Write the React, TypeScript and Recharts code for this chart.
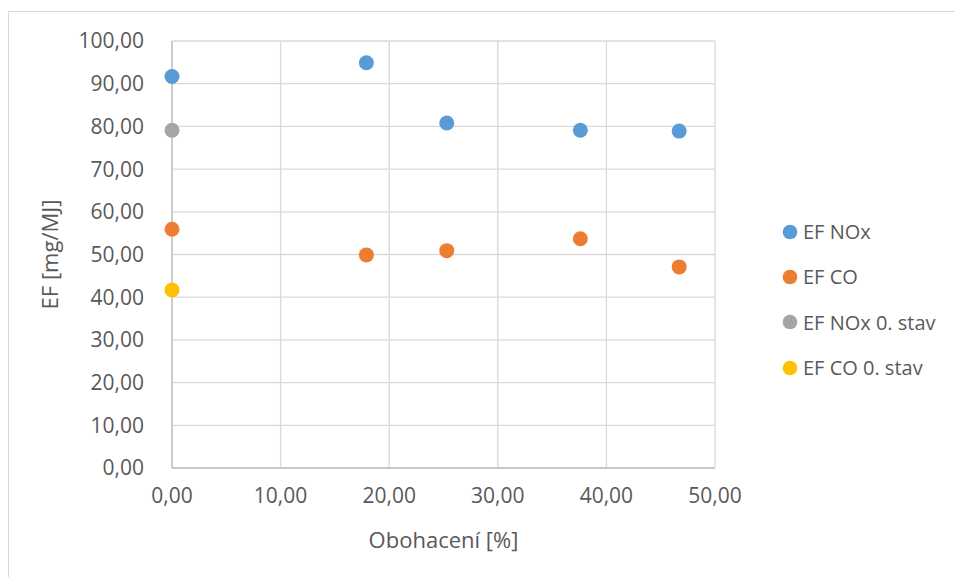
import React from "react";
import {
  ScatterChart,
  Scatter,
  XAxis,
  YAxis,
  CartesianGrid,
  Label,
} from "recharts";

// Enrichment [%] for the measured states
const enrichment = [17.9, 25.3, 37.6, 46.7];
const efNOx = [94.9, 80.8, 79.1, 78.9];
const efCO = [49.9, 50.9, 53.7, 47.1];

// Baseline ("0. stav") at zero enrichment
const baseEnrichment = [0, 0];
const baseNOx = [91.7, 79.1];
const baseCO = [55.9, 41.7];

const xTicks = [0, 10, 20, 30, 40, 50];
const yTicks = [0, 10, 20, 30, 40, 50, 60, 70, 80, 90, 100];

// Series order in the legend: NOx, CO, NOx 0. stav, CO 0. stav
const nOxPoints = [
  { x: baseEnrichment[0], y: baseNOx[0] },
  ...enrichment.map((x, i) => ({ x, y: efNOx[i] })),
];
const coPoints = [
  { x: baseEnrichment[0], y: baseCO[0] },
  ...enrichment.map((x, i) => ({ x, y: efCO[i] })),
];
const nOxBase = [{ x: baseEnrichment[1], y: baseNOx[1] }];
const coBase = [{ x: baseEnrichment[1], y: baseCO[1] }];

const series = [
  { name: "EF NOx", color: "#5B9BD5", data: nOxPoints },
  { name: "EF CO", color: "#ED7D31", data: coPoints },
  { name: "EF NOx 0. stav", color: "#A5A5A5", data: nOxBase },
  { name: "EF CO 0. stav", color: "#FFC000", data: coBase },
];

const FONT = "'Open Sans', 'Noto Sans', sans-serif";
const TEXT = "#595959";

const fmt = (v: number) => v.toFixed(2).replace(".", ",");

const Dot = (props: any) => {
  const { cx, cy, fill } = props;
  if (cx == null || cy == null) return null;
  return <circle cx={cx} cy={cy} r={7.5} fill={fill} />;
};

const LegendBox = () => (
  <div
    style={{
      position: "absolute",
      left: 782,
      top: 209,
      width: 175,
      fontFamily: FONT,
      fontSize: 20,
      color: TEXT,
      whiteSpace: "nowrap",
    }}
  >
    {series.map((s) => (
      <div
        key={s.name}
        style={{ display: "flex", alignItems: "center", height: 45.3 }}
      >
        <svg width={16} height={16} style={{ marginRight: 5 }}>
          <circle cx={8} cy={8} r={7.3} fill={s.color} />
        </svg>
        <span>{s.name}</span>
      </div>
    ))}
  </div>
);

export default function App() {
  return (
    <div
      style={{
        position: "absolute",
        left: 0,
        top: 0,
        width: 955,
        height: 577,
        background: "#fff",
        overflow: "hidden",
      }}
    >
      <div
        style={{
          position: "absolute",
          left: 8,
          top: 11,
          width: 960,
          height: 580,
          borderTop: "1px solid #d9d9d9",
          borderLeft: "1px solid #d9d9d9",
        }}
      />
      <ScatterChart
        width={955}
        height={577}
        margin={{ top: 41, right: 240, bottom: 0, left: 0 }}
        style={{ position: "absolute", left: 0, top: 0 }}
      >
        <CartesianGrid stroke="#d9d9d9" strokeWidth={1.3} />
        <XAxis
          type="number"
          dataKey="x"
          domain={[0, 50]}
          ticks={xTicks}
          tickFormatter={fmt}
          height={109}
          axisLine={{ stroke: "#bfbfbf", strokeWidth: 1.3 }}
          tickLine={false}
          tick={{ fill: TEXT, fontSize: 21, fontFamily: FONT }}
          tickMargin={14}
          interval={0}
        >
          <Label
            value="Obohacení [%]"
            position="insideBottom"
            offset={29}
            style={{ fill: TEXT, fontSize: 22, fontFamily: FONT }}
          />
        </XAxis>
        <YAxis
          type="number"
          dataKey="y"
          domain={[0, 100]}
          ticks={yTicks}
          tickFormatter={fmt}
          width={172}
          axisLine={{ stroke: "#bfbfbf", strokeWidth: 1.3 }}
          tickLine={false}
          tick={{ fill: TEXT, fontSize: 21, fontFamily: FONT }}
          tickMargin={22}
          interval={0}
        >
          <Label
            value="EF [mg/MJ]"
            angle={-90}
            position="insideLeft"
            offset={50}
            style={{ fill: TEXT, fontSize: 22, fontFamily: FONT, textAnchor: "middle" }}
          />
        </YAxis>
        {series.map((s) => (
          <Scatter
            key={s.name}
            name={s.name}
            data={s.data}
            fill={s.color}
            shape={<Dot />}
            isAnimationActive={false}
          />
        ))}
      </ScatterChart>
      <LegendBox />
    </div>
  );
}
